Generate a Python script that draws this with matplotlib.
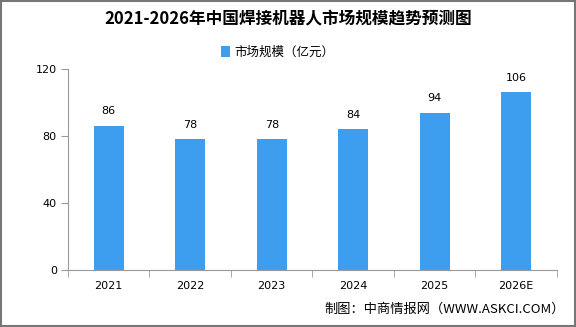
import numpy as np
import matplotlib.pyplot as plt
from matplotlib.patches import Rectangle

plt.rcParams['font.family'] = ['Noto Sans CJK SC', 'DejaVu Sans']

years = ['2021', '2022', '2023', '2024', '2025', '2026E']
values = [86, 78, 78, 84, 94, 106]
bar_color = '#3d9ef0'

fig = plt.figure(figsize=(5.76, 3.27), dpi=100)
ax = fig.add_axes([0.118, 0.174, 0.849, 0.615])

x = np.arange(len(years))
ax.bar(x, values, width=0.37, color=bar_color, label='市场规模（亿元）', zorder=2)

for xi, v in zip(x, values):
    ax.annotate(str(v), (xi, v), textcoords='offset points', xytext=(0, 7),
                ha='center', va='bottom', fontsize=8, family='DejaVu Sans')

ax.set_xlim(-0.5, len(years) - 0.5)
ax.set_ylim(0, 120)
ax.set_yticks([0, 40, 80, 120])
ax.set_xticks(x)
ax.set_xticklabels(years)
ax.set_xticks(np.arange(-0.5, len(years)), minor=True)
ax.tick_params(axis='x', which='major', length=0, labelsize=8, pad=8)
ax.tick_params(axis='x', which='minor', length=5, color='#999999', direction='out')
ax.tick_params(axis='y', length=5, color='#999999', labelsize=8, pad=3)
for lab in ax.get_xticklabels() + ax.get_yticklabels():
    lab.set_family('DejaVu Sans')

for s in ['top', 'right']:
    ax.spines[s].set_visible(False)
ax.spines['left'].set_color('#999999')
ax.spines['bottom'].set_color('#999999')

fig.text(0.5, 0.94, '2021-2026年中国焊接机器人市场规模趋势预测图', ha='center', va='center',
         fontsize=12, fontweight='bold')
ax.legend(loc='center', bbox_to_anchor=(0.482, 0.84), bbox_transform=fig.transFigure,
          frameon=False, fontsize=9, handlelength=0.7, handleheight=0.9, handletextpad=0.3)
fig.text(0.98, 0.055, '制图：中商情报网（WWW.ASKCI.COM）', ha='right', va='center', fontsize=9.5)

fig.patches.append(Rectangle((0.001, 0.002), 0.997, 0.995, transform=fig.transFigure,
                             fill=False, edgecolor='#777777', linewidth=1.5))

fig.savefig('out.png', dpi=100)
